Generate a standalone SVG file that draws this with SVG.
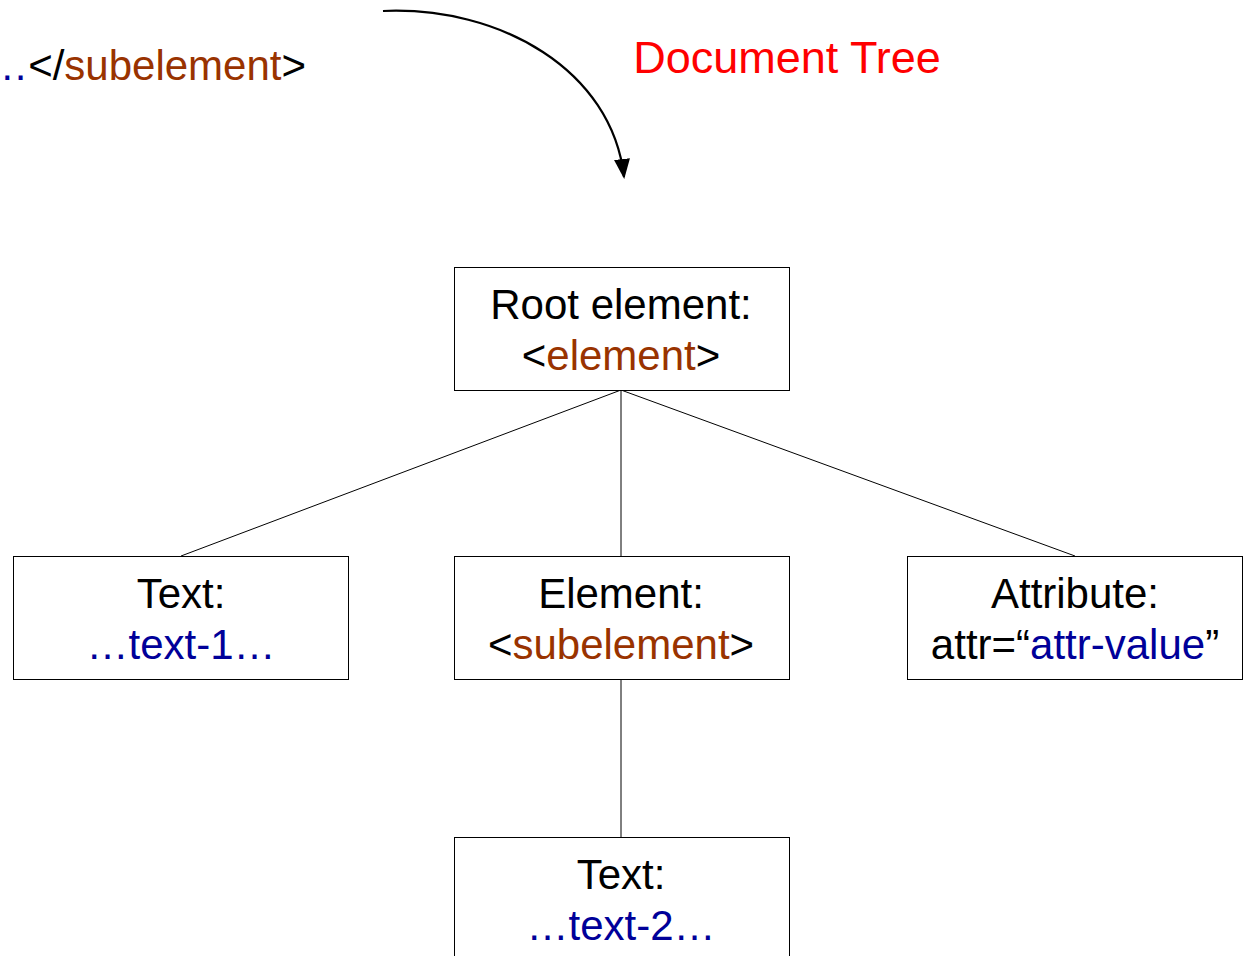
<svg xmlns="http://www.w3.org/2000/svg" width="1249" height="956" viewBox="0 0 1249 956">
<style>
text{font-family:"Liberation Sans",Arial,sans-serif;font-size:42px;fill:#000;text-anchor:middle}
.b{fill:#993300}
.u{fill:#000099}
.box{fill:#fff;stroke:#000;stroke-width:1}
.ln{stroke:#000;stroke-width:1;fill:none}
</style>
<defs>
<marker id="ah" markerWidth="20" markerHeight="16" refX="18" refY="8" orient="auto" markerUnits="userSpaceOnUse" viewBox="0 0 20 16">
<path d="M0,0 L20,8 L0,16 Z" fill="#000"/>
</marker>
</defs>
<text x="306" y="80" style="text-anchor:end"><tspan class="u">…</tspan>&lt;/<tspan class="b">subelement</tspan>&gt;</text>
<text x="787" y="73" style="fill:#ff0000;font-size:45px">Document Tree</text>
<g id="connectors">
<path class="ln" d="M383,11 C500,6 612,70 624,177" style="stroke-width:2.2" marker-end="url(#ah)"/>
<line class="ln" x1="621" y1="390" x2="181" y2="556"/>
<line class="ln" x1="621" y1="390" x2="621" y2="556"/>
<line class="ln" x1="621" y1="390" x2="1075" y2="556"/>
<line class="ln" x1="621" y1="679" x2="621" y2="837"/>
</g>
<g id="root">
<rect class="box" x="454.5" y="267.5" width="335" height="123"/>
<text x="621" y="319">Root element:</text>
<text x="621" y="370">&lt;<tspan class="b">element</tspan>&gt;</text>
</g>
<g id="text1">
<rect class="box" x="13.5" y="556.5" width="335" height="123"/>
<text x="181" y="608">Text:</text>
<text x="181" y="659" class="u">…text-1…</text>
</g>
<g id="subelement">
<rect class="box" x="454.5" y="556.5" width="335" height="123"/>
<text x="621" y="608">Element:</text>
<text x="621" y="659">&lt;<tspan class="b">subelement</tspan>&gt;</text>
</g>
<g id="attribute">
<rect class="box" x="907.5" y="556.5" width="335" height="123"/>
<text x="1075" y="608">Attribute:</text>
<text x="1075" y="659">attr=“<tspan class="u">attr-value</tspan>”</text>
</g>
<g id="text2">
<rect class="box" x="454.5" y="837.5" width="335" height="130"/>
<text x="621" y="889">Text:</text>
<text x="621" y="940" class="u">…text-2…</text>
</g>
</svg>
